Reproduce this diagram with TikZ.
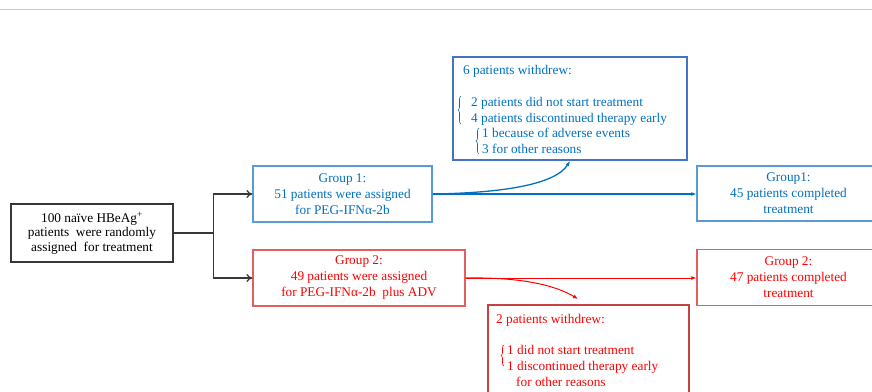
\documentclass[tikz,border=0pt]{standalone}
\usepackage{fontspec}
\setmainfont{Liberation Serif}
\usetikzlibrary{arrows.meta,calc,decorations.pathreplacing}
\definecolor{grpblue}{RGB}{0,112,192}
\definecolor{boxblue}{RGB}{91,155,213}
\definecolor{wdblue}{RGB}{68,114,196}
\definecolor{grpred}{RGB}{255,0,0}
\definecolor{boxred}{RGB}{225,95,95}
\definecolor{wdred}{RGB}{200,65,65}
\definecolor{rulegray}{RGB}{200,200,200}
\definecolor{linegray}{RGB}{55,55,55}

\begin{document}
\begin{tikzpicture}[x=1pt, y=-1pt,
		txt/.style={font=\fontsize{13.3}{16}\selectfont, inner sep=0pt, anchor=base west},
		grp/.style={draw, line width=1.2pt, align=center, font=\fontsize{13.3}{16}\selectfont, inner sep=0pt},
		wdbox/.style={draw, line width=2pt, inner sep=0pt},
		brace/.style={decorate, decoration={brace, amplitude=3pt}, line width=0.6pt},
		tip/.style={-{Latex[length=5pt, width=4pt]}}]
		\useasboundingbox (0,0) rectangle (872,391);
		\draw [rulegray, line width=1.5pt] (0,9.5) -- (872,9.5);
		% start and the two groups
		\node [draw, linegray, text=black, line width=1.2pt, minimum width=162pt, minimum height=58pt, align=center, font=\fontsize{13.3}{14.5}\selectfont, inner sep=0pt] (start) at (92,233) {100 naïve HBeAg\textsuperscript{+}\\patients\ \ were randomly\\assigned\ \ for treatment};
		\node [grp, boxblue, text=grpblue, minimum width=179pt, minimum height=56pt] (g1) at (342.5,194) {Group 1:\\51 patients were assigned\\for PEG-IFNα-2b};
		\node [grp, boxred, text=grpred, minimum width=212pt, minimum height=56pt] (g2) at (359,278) {Group 2:\\49 patients were assigned\\for PEG-IFNα-2b\ \ plus ADV};
		\node [grp, boxblue, text=grpblue, minimum width=183pt, minimum height=55pt] (c1) at (788.5,193.5) {Group1:\\45 patients completed\\treatment};
		\node [grp, boxred, text=grpred, minimum width=183pt, minimum height=56pt] (c2) at (788.5,277.5) {Group 2:\\47 patients completed\\treatment};
		% withdrawals, group 1
		\node [wdbox, wdblue, minimum width=234pt, minimum height=103pt] (wd1) at (570,108.5) {};
		\node [txt, text=grpblue] (wd1head) at (463,74) {6 patients withdrew:};
		\node [txt, text=grpblue] (wd1a) at (471,106) {2 patients did not start treatment};
		\node [txt, text=grpblue] (wd1b) at (471,122) {4 patients discontinued therapy early};
		\node [txt, text=grpblue] (wd1c) at (482,137) {1 because of adverse events};
		\node [txt, text=grpblue] (wd1d) at (482,153) {3 for other reasons};
		\draw [brace, grpblue] (461,124) -- (461,96);
		\draw [brace, grpblue] (479,154) -- (479,128);
		% withdrawals, group 2
		\node [wdbox, wdred, minimum width=201pt, minimum height=120pt] (wd2) at (588.5,365) {};
		\node [txt, text=grpred] (wd2head) at (496,323) {2 patients withdrew:};
		\node [txt, text=grpred] (wd2a) at (507,354) {1 did not start treatment};
		\node [txt, text=grpred] (wd2b) at (507,370) {1 discontinued therapy early};
		\node [txt, text=grpred] (wd2c) at (516,386) {for other reasons};
		\draw [brace, grpred] (504,366) -- (504,345);
		% connectors
		\coordinate (split) at ($(start.east)+(40,0)$);
		\coordinate (r2end) at (578,299);
		\draw [linegray, line width=1.2pt] (start.east) -- (split);
		\draw [linegray, line width=1.2pt, -{To[length=6pt, width=8pt]}] (split) |- (g1.west);
		\draw [linegray, line width=1.2pt, -{To[length=6pt, width=8pt]}] (split) |- (g2.west);
		\draw [grpblue, line width=1.3pt, tip] (g1.east) -- (g1.east -| c1.west);
		\draw [grpblue, line width=1.3pt, tip] (g1.east) .. controls (500,193) and (555,185) .. (wd1.south);
		\draw [grpred, line width=1pt, tip] (g2.east) -- (g2.east -| c2.west);
		\draw [grpred, line width=1pt, tip] (g2.east) .. controls (520,277) and (555,285) .. (r2end);
	\end{tikzpicture}
\end{document}
